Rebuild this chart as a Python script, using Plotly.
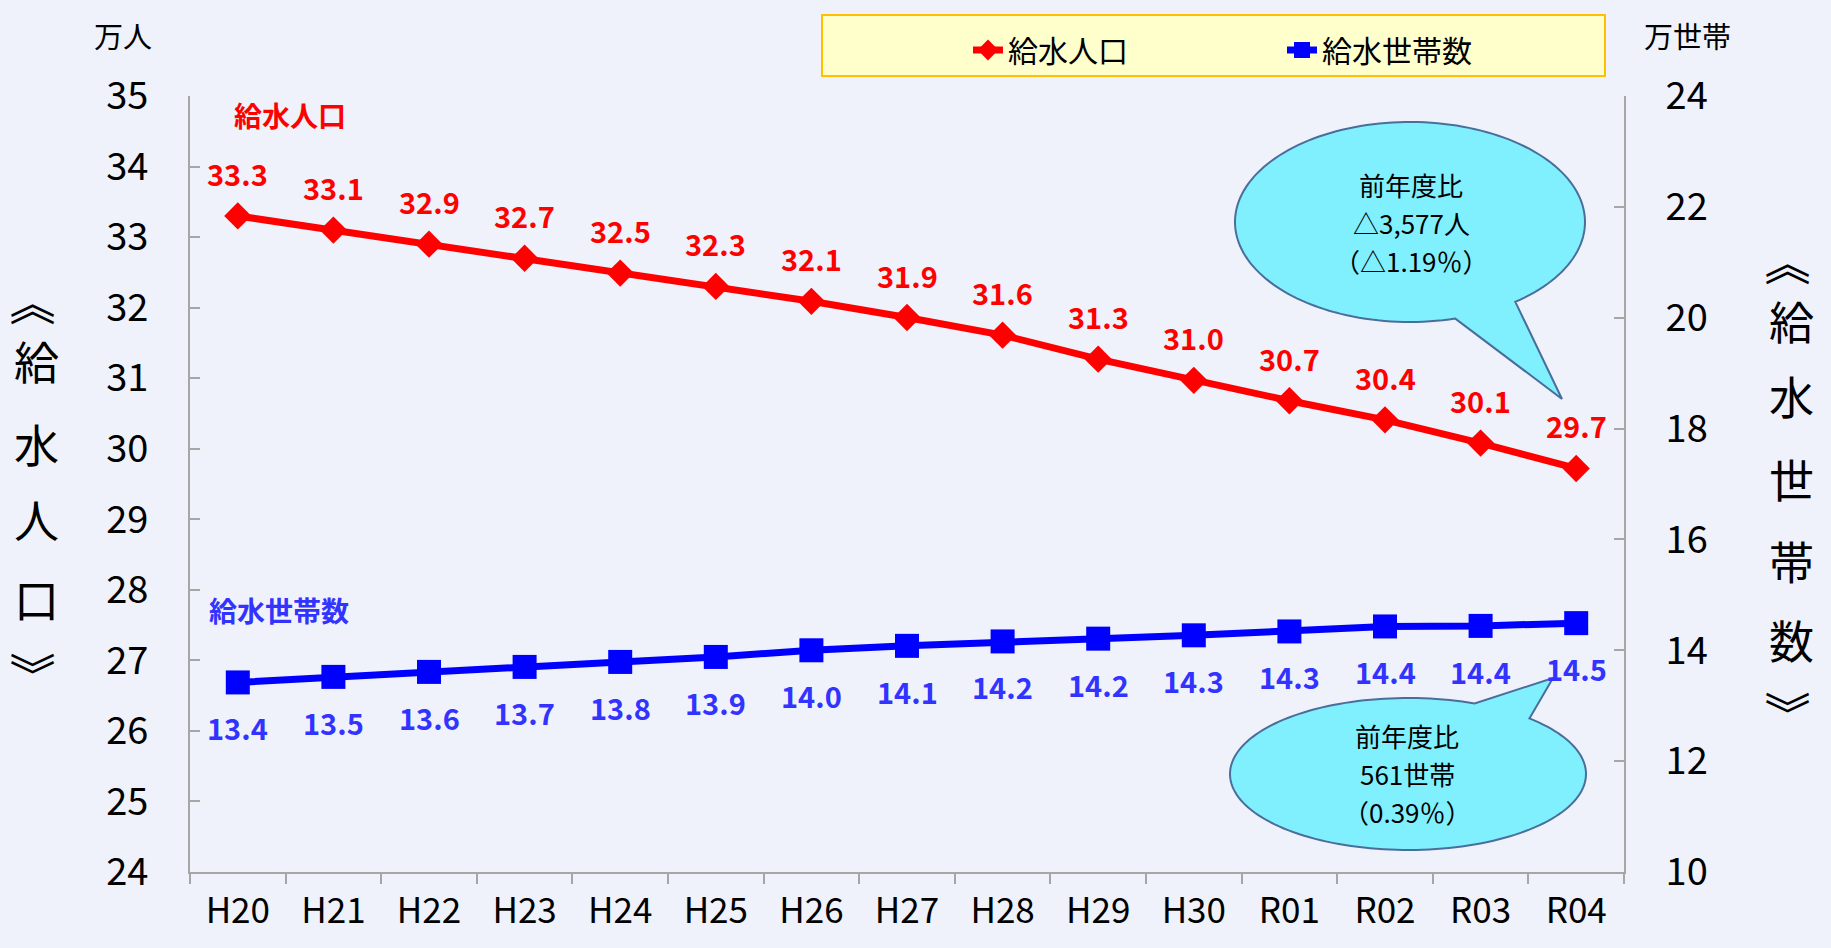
import numpy as np
import plotly.graph_objects as go

W, H = 1831, 948
L, R, T, B = 190, 1624, 96, 872

categories = ["H20", "H21", "H22", "H23", "H24", "H25", "H26", "H27",
              "H28", "H29", "H30", "R01", "R02", "R03", "R04"]
population = [33.30, 33.10, 32.90, 32.70, 32.49, 32.30, 32.09, 31.86,
              31.61, 31.27, 30.97, 30.68, 30.41, 30.08, 29.72]
households = [13.42, 13.52, 13.61, 13.70, 13.79, 13.88, 14.00, 14.08,
              14.16, 14.21, 14.27, 14.34, 14.43, 14.44, 14.49]
pop_name = "給水人口"
hh_name = "給水世帯数"
callout_pop = ["前年度比", "△3,577人", "（△1.19％）"]
callout_hh = ["前年度比", "561世帯", "（0.39％）"]

BG = "#EFF2FA"
RED = "#FF0000"
BLUE = "#0000FF"
LBLUE = "#3333FF"
NUM_FONT = "Liberation Sans Narrow, Noto Sans CJK JP, sans-serif"
JP_FONT = "Noto Sans CJK JP, sans-serif"


def pp(x, y):
    return (x - L) / (R - L), (B - y) / (B - T)


fig = go.Figure()
fig.add_trace(go.Scatter(
    x=categories, y=population, name=pop_name, mode="lines+markers",
    line=dict(color=RED, width=7),
    marker=dict(symbol="diamond", size=21, color=RED),
    yaxis="y"))
fig.add_trace(go.Scatter(
    x=categories, y=households, name=hh_name, mode="lines+markers",
    line=dict(color=BLUE, width=7),
    marker=dict(symbol="square", size=24, color=BLUE),
    yaxis="y2"))

ann = []
for c, v in zip(categories, population):
    ann.append(dict(x=c, y=v, xref="x", yref="y", text=f"{v:.1f}", showarrow=False,
                    yshift=43, font=dict(family=NUM_FONT, size=29, color=RED, weight="bold")))
for c, v in zip(categories, households):
    ann.append(dict(x=c, y=v, xref="x", yref="y2", text=f"{v:.1f}", showarrow=False,
                    yshift=-45, font=dict(family=NUM_FONT, size=29, color=LBLUE, weight="bold")))


def txt(x, y, s, size, color="black", bold=False, xanchor="center", family=JP_FONT, angle=0):
    px, py = pp(x, y)
    ann.append(dict(x=px, y=py, xref="paper", yref="paper", text=s, showarrow=False,
                    xanchor=xanchor, yanchor="middle", textangle=angle,
                    font=dict(family=family, size=size, color=color,
                              weight="bold" if bold else "normal")))


txt(123, 35, "万人", 29)
txt(1688, 35, "万世帯", 29)
txt(232, 115, pop_name, 28, RED, True, "left")
txt(207, 610, hh_name, 28, LBLUE, True, "left")

# vertical axis titles: 《給水人口》 / 《給水世帯数》 written top to bottom
left_chars = ["《", "給", "水", "人", "口", "》"]
left_y = [303, 360, 443, 518, 598, 675]
for ch, yy in zip(left_chars, left_y):
    if ch in "《》":
        txt(36, yy, ch, 46, angle=90)
    else:
        txt(36, yy, ch, 45)
right_chars = ["《", "給", "水", "世", "帯", "数", "》"]
right_y = [263, 320, 395, 478, 560, 639, 714]
for ch, yy in zip(right_chars, right_y):
    if ch in "《》":
        txt(1791, yy, ch, 46, angle=90)
    else:
        txt(1791, yy, ch, 45)

# callout texts (one line each)
for s, yy in zip(callout_pop, [184, 222, 260]):
    txt(1411, yy, s, 26)
for s, yy in zip(callout_hh, [735, 773, 811]):
    txt(1407, yy, s, 26)


def bubble(cx, cy, rx, ry, a_start, a_end, tip):
    angs = np.radians(np.linspace(a_start, a_end, 160))
    pts = [(cx + rx * np.cos(a), cy + ry * np.sin(a)) for a in angs]
    pts.append(tip)
    segs = []
    for x, y in pts:
        u, v = pp(x, y)
        segs.append(f"{u:.5f},{v:.5f}")
    return "M " + " L ".join(segs) + " Z"


shapes = []
lx0, ly0 = pp(822, 15)
lx1, ly1 = pp(1605, 76)
shapes.append(dict(type="rect", xref="paper", yref="paper", x0=lx0, y0=ly0, x1=lx1, y1=ly1,
                   fillcolor="#FFFFCC", line=dict(color="#FFC000", width=2), layer="below"))
shapes.append(dict(type="path", xref="paper", yref="paper",
                   path=bubble(1410, 222, 175, 100, 75, 413, (1562, 399)),
                   fillcolor="#80F0FF", line=dict(color="#4A6E9B", width=2), layer="above"))
shapes.append(dict(type="path", xref="paper", yref="paper",
                   path=bubble(1408, 774, 178, 76, -47, 292, (1553, 678)),
                   fillcolor="#80F0FF", line=dict(color="#4A6E9B", width=2), layer="above"))

axis_common = dict(showgrid=False, zeroline=False, showline=True, linecolor="#A6A6A6",
                   linewidth=2, tickcolor="#A6A6A6", tickwidth=2, ticklen=10)

lgx, lgy = pp(968, 24)
fig.update_layout(
    width=W, height=H,
    margin=dict(l=L, r=W - R, t=T, b=H - B, pad=0),
    paper_bgcolor=BG, plot_bgcolor=BG,
    showlegend=True,
    legend=dict(orientation="h", x=lgx, y=lgy, xanchor="left", yanchor="top",
                bgcolor="rgba(0,0,0,0)", borderwidth=0,
                entrywidth=269, entrywidthmode="pixels",
                font=dict(family=JP_FONT, size=30, color="black")),
    xaxis=dict(type="category", categoryorder="array", categoryarray=categories,
               range=[-0.5, len(categories) - 0.5], ticks="outside", tickson="boundaries",
               ticklabelstandoff=7,
               tickfont=dict(family=NUM_FONT, size=35, color="black"), **axis_common),
    yaxis=dict(range=[24, 35], dtick=1, tick0=24, ticks="inside", ticklabelstandoff=32,
               tickfont=dict(family=NUM_FONT, size=38, color="black"), **axis_common),
    yaxis2=dict(range=[10, 24], dtick=2, tick0=10, ticks="inside", overlaying="y",
                side="right", ticklabelstandoff=32,
                tickfont=dict(family=NUM_FONT, size=38, color="black"), **axis_common),
    annotations=ann,
    shapes=shapes,
)

fig.write_html("out.html", include_plotlyjs=True, config={"displayModeBar": False},
               post_script="document.body.style.margin='0';document.body.style.overflow='hidden';")
